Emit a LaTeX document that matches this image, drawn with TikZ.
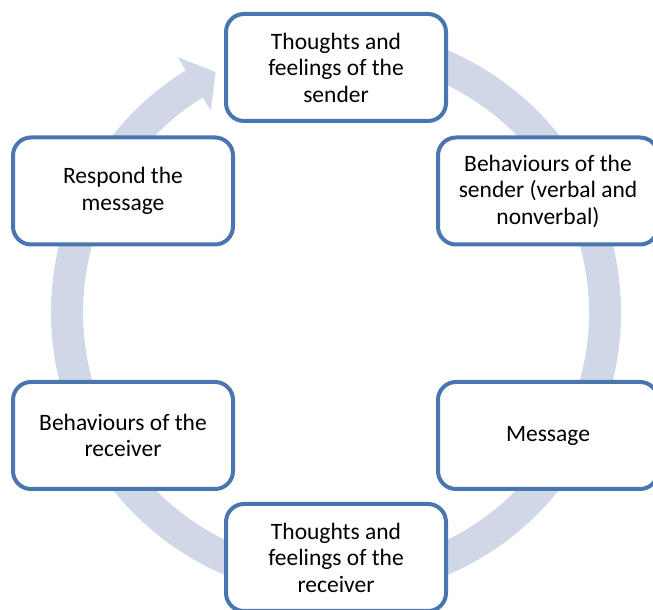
\documentclass[tikz,border=0pt]{standalone}
\usepackage{fontspec}
\setmainfont{Carlito}
\usetikzlibrary{calc}
\definecolor{ringc}{HTML}{D0D8E8}
\definecolor{boxc}{HTML}{4A76B0}
\tikzset{
  cbox/.style={draw=boxc, line width=4pt, rounded corners=18pt, fill=white,
    minimum width=220pt, minimum height=107pt, align=center, inner sep=0pt,
    font=\fontsize{23.5}{26.5}\selectfont},
  ringline/.style={draw=ringc, line width=32pt},
  ringhead/.style={fill=ringc, draw=none}
}
\begin{document}
\begin{tikzpicture}[x=1pt, y=1pt]
\useasboundingbox (0,0) rectangle (653,610);
\clip (0,0) rectangle (653,610);
\coordinate (C) at (336,297.5);
% cycle arrow
\draw[ringline] ($(C)+(100:269)$) arc[start angle=100, end angle=-238.2, radius=269pt];
\coordinate (hA) at ($(C)+(121.8:300.5)$);
\coordinate (hB) at ($(C)+(121.8:237.5)$);
\coordinate (hT) at ($(C)+(116.6:269)$);
\fill[ringhead] (hA) -- (hT) -- (hB) -- cycle;
% boxes
\node[cbox] (n1) at (336,542.5) {Thoughts and\\feelings of the\\sender};
\node[cbox] (n2) at (548,419) {Behaviours of the\\sender (verbal and\\nonverbal)};
\node[cbox] (n3) at (548,174.5) {Message};
\node[cbox] (n4) at (336,52.5) {Thoughts and\\feelings of the\\receiver};
\node[cbox] (n5) at (123,174.5) {Behaviours of the\\receiver};
\node[cbox] (n6) at (123,419) {Respond the\\message};
\end{tikzpicture}
\end{document}
